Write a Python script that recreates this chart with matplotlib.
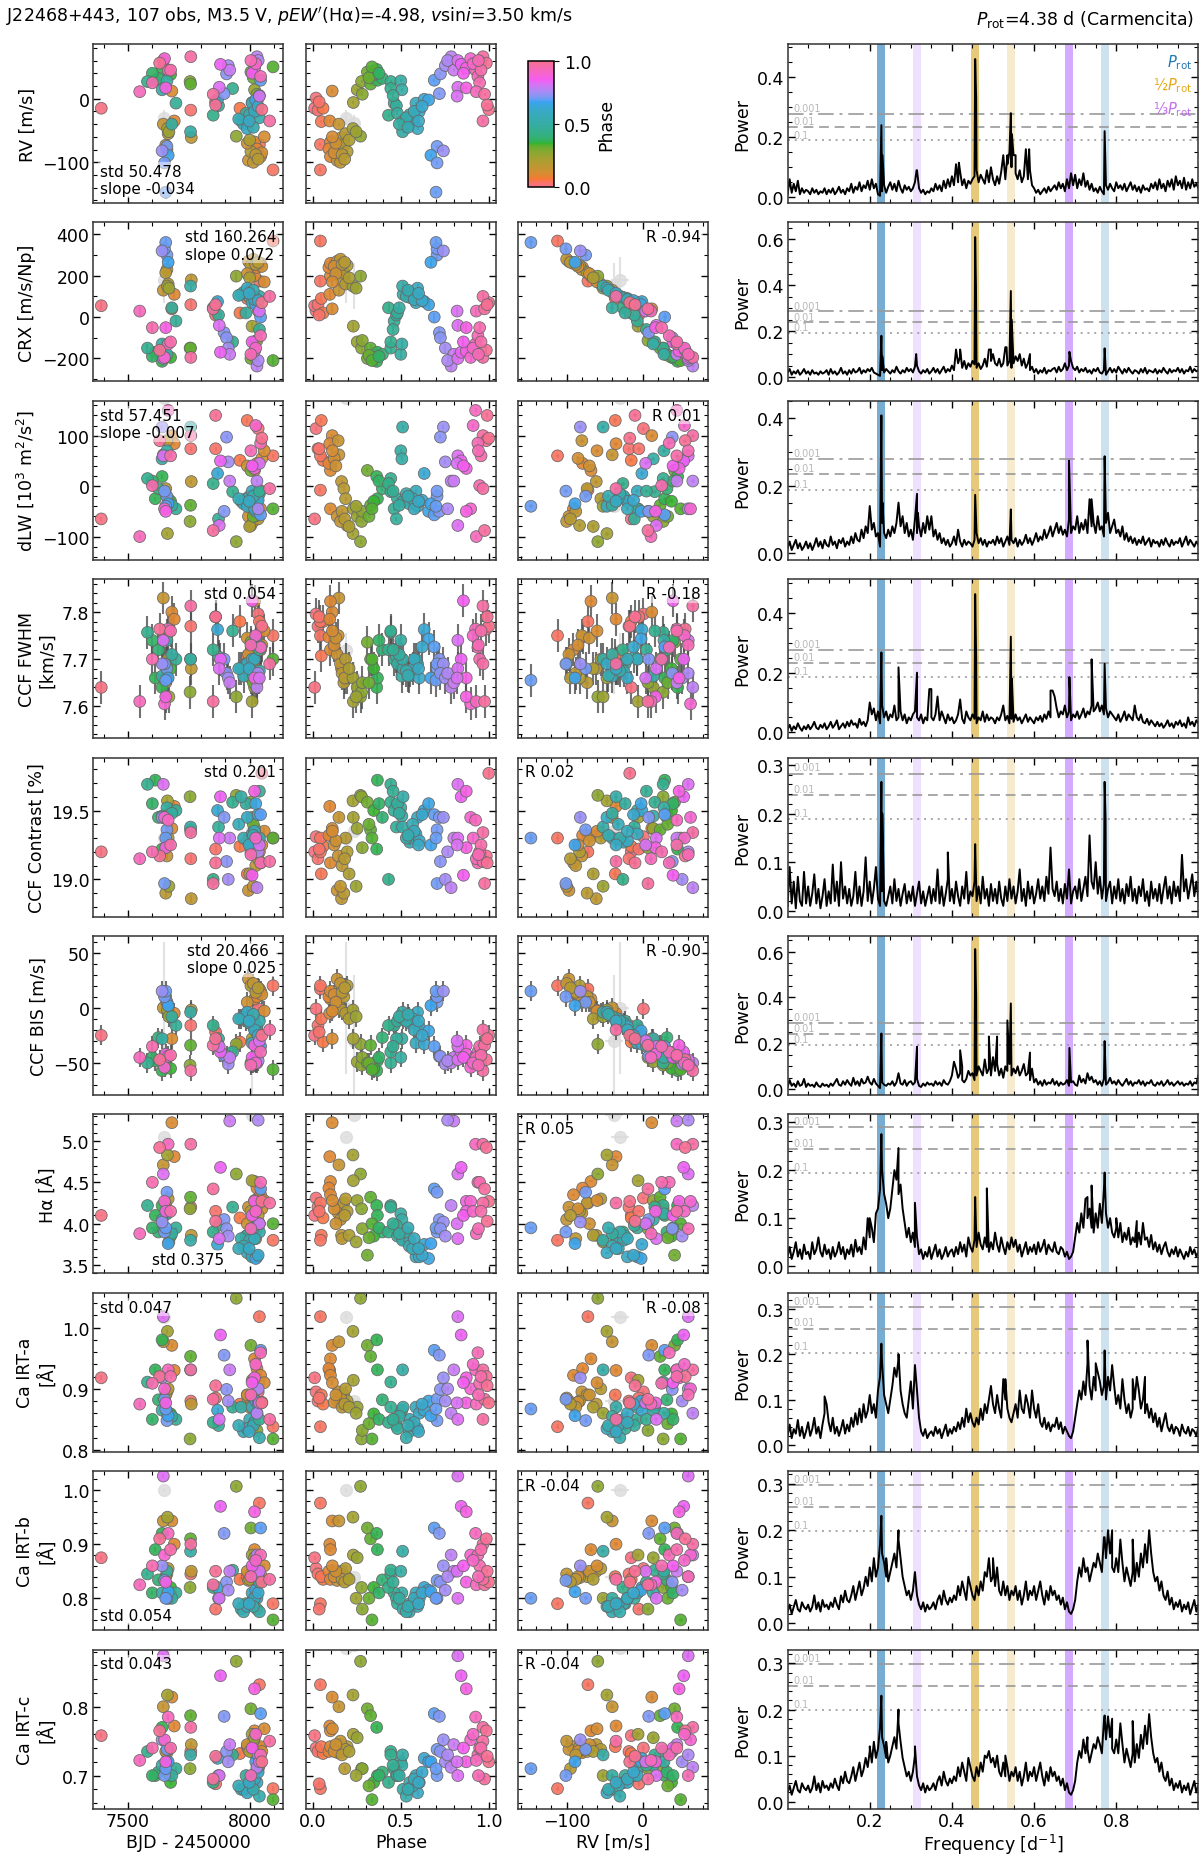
import numpy as np
import matplotlib
matplotlib.use('Agg')
import matplotlib.pyplot as plt
import seaborn as sns
from matplotlib.colors import ListedColormap, Normalize
from matplotlib.cm import ScalarMappable
from matplotlib.ticker import MultipleLocator
from matplotlib.offsetbox import AnchoredText

plt.rcParams['font.family'] = ['DejaVu Sans']
plt.rcParams['font.size'] = 12.5

# ---------------- data ----------------
prot = 4.38
n_obs = 107

bjd = [8035, 7390, 7758, 7960, 7990, 8040, 8096, 7860,
       7680, 7690, 7645, 8020, 8030, 8045, 7660, 7995, 7760, 7655, 8005, 8015, 7665, 8050, 8025, 7990, 8060, 8035,
       7662, 7945, 8010, 8020, 7755, 8030, 8000, 7668,
       8005, 7757, 7640, 7612, 7625, 7675, 8015, 8096, 7600,
       7580, 7930, 7660, 7640, 7697, 7872, 7850, 7985, 7965, 7757, 8000, 7975, 7990, 8010, 8030, 7868, 8025, 7955,
       8040, 8020, 8035, 7680, 8015, 8040, 7998,
       8045, 7895, 7660, 7665, 7650, 7655,
       7640, 7905, 7912, 8030, 7918, 8035,
       7645, 7880, 8020, 7650, 7875, 7655, 8040, 8010,
       7665, 7758, 7630, 8045, 7600, 7548, 7850, 8050, 8082, 8025, 7675, 7860, 8005]

phase = [0.017, 0.009, 0.028, 0.057, 0.047, 0.042, 0.042, 0.035,
         0.109, 0.095, 0.147, 0.099, 0.090, 0.099, 0.143, 0.137, 0.162, 0.175, 0.194, 0.156, 0.185, 0.120, 0.165,
         0.130, 0.110, 0.180,
         0.227, 0.270, 0.229, 0.251, 0.276, 0.280, 0.205, 0.245,
         0.309, 0.327, 0.362, 0.366, 0.394, 0.345, 0.318, 0.335, 0.375,
         0.442, 0.442, 0.499, 0.505, 0.461, 0.474, 0.429, 0.480, 0.512, 0.509, 0.550, 0.547, 0.594, 0.585, 0.604,
         0.632, 0.657, 0.566, 0.530, 0.575, 0.620, 0.490, 0.540, 0.455, 0.600,
         0.689, 0.718, 0.705, 0.670, 0.705, 0.699,
         0.741, 0.724, 0.752, 0.785, 0.800, 0.765,
         0.823, 0.842, 0.871, 0.896, 0.823, 0.871, 0.819, 0.855,
         0.924, 0.966, 0.985, 0.937, 0.947, 0.928, 0.975, 0.999, 0.966, 0.910, 0.955, 0.990, 0.940]

rv = [1, -15, -18, -15, -36, -72, -112, -5,
      12, -35, -40, -68, -79, -91, -80, -97, -61, -73, -83, -100, -55, -85, -88, -70, -60, -95,
      -47, -59, -6, 14, 27, 7, -65, -52,
      42, 23, 46, 29, 32, 38, 33, 50, 40,
      27, 16, 28, 14, -7, -11, -26, -23, -35, -52, -25, -40, -47, -7, -20, -1, -2, -32, -30, -20, -12, -40,
      -45, 5, -35,
      29, 8, -75, -89, -101, -147,
      -82, 39, 52, 66, 45, 60,
      60, 54, 48, 63, 18, 17, 4, 40,
      45, 66, 56, 35, 25, 11, 7, -17, -35, 55, 45, -10, 60]

crx = [30, 55, 60, 20, 90, 174, 368, 10,
       40, 110, 130, 200, 240, 260, 230, 270, 180, 215, 250, 280, 160, 245, 255, 210, 170, 265,
       150, 198, -44, -120, -150, -113, 190, 140,
       -200, -150, -214, -170, -180, -195, -185, -210, -190,
       -150, -120, -180, -130, -19, 10, 45, 20, 110, 150, 95, 120, 140, 70, 90, 75, 60, 105, 100, 85, 80, 45,
       130, -60, 115,
       0, -75, 300, 265, 330, 361,
       320, -100, -150, -237, -180, -210,
       -200, -170, -164, -195, -40, -51, 29, -120,
       -130, -195, -160, -90, -51, 29, 40, 70, 100, -150, -120, 60, -180]

dlw = [114, -65, 74, 51, 130, -8, 60, 74,
       100, 84, 62, 31, 45, -45, 90, -60, 9, -5, -78, -70, -25, 55, -50, 40, 70, -65,
       -94, -110, -45, -60, -70, -50, -80, -40,
       31, -38, 19, -25, -5, -30, -60, -45, 10,
       15, -11, 70, 54, -45, -65, 5, -25, -30, 117, -20, -35, -40, -10, -30, 25, -50, -25, -15, -45, -28, -38,
       -20, -10, -30,
       -57, -50, -20, -35, -10, -40,
       117, 97, 48, 10, 10, -45,
       60, 50, 35, -45, -78, -50, 45, 40,
       150, 100, 90, 85, 1, -100, -88, 95, -5, 120, 60, 140, 70]

fwhm = [7.796, 7.640, 7.770, 7.780, 7.707, 7.780, 7.750, 7.790,
        7.800, 7.785, 7.830, 7.823, 7.747, 7.720, 7.750, 7.710, 7.680, 7.650, 7.660, 7.690, 7.700, 7.730, 7.670,
        7.745, 7.760, 7.660,
        7.660, 7.620, 7.610, 7.640, 7.630, 7.650, 7.680, 7.620,
        7.736, 7.700, 7.640, 7.660, 7.720, 7.680, 7.650, 7.700, 7.740,
        7.757, 7.760, 7.740, 7.664, 7.700, 7.705, 7.720, 7.690, 7.680, 7.700, 7.675, 7.664, 7.690, 7.700, 7.660,
        7.763, 7.743, 7.680, 7.675, 7.700, 7.726, 7.710, 7.665, 7.720, 7.680,
        7.726, 7.700, 7.680, 7.660, 7.690, 7.655,
        7.690, 7.670, 7.660, 7.640, 7.650, 7.670,
        7.740, 7.700, 7.660, 7.605, 7.680, 7.620, 7.660, 7.824,
        7.764, 7.813, 7.764, 7.725, 7.700, 7.610, 7.610, 7.770, 7.690, 7.750, 7.760, 7.790, 7.730]

contrast = [19.31, 19.20, 19.15, 19.24, 19.04, 19.20, 19.30, 19.22,
            19.37, 19.53, 19.45, 19.32, 19.32, 19.12, 19.17, 18.92, 18.86, 18.90, 19.20, 18.95, 19.30, 19.25, 19.10,
            19.28, 19.35, 19.15,
            19.57, 19.61, 19.45, 19.37, 19.60, 19.23, 19.04, 18.95,
            19.56, 19.36, 19.22, 19.72, 19.45, 19.50, 19.40, 19.30, 19.55,
            19.69, 19.56, 19.52, 19.46, 19.50, 19.38, 19.00, 19.55, 19.60, 19.38, 19.27, 19.30, 19.45, 19.33, 19.28,
            19.50, 19.55, 19.40, 19.30, 19.35, 19.47, 19.48, 19.32, 19.64, 19.25,
            19.47, 19.45, 19.36, 19.25, 18.97, 19.30,
            19.45, 19.13, 19.00, 18.94, 19.30, 19.20,
            19.69, 19.60, 19.64, 19.45, 19.30, 19.23, 19.25, 19.03,
            19.43, 19.34, 19.17, 19.12, 19.20, 19.15, 18.97, 19.77, 19.13, 19.30, 19.25, 19.12, 19.18]

bis = [-1, -25, -16, -31, -10, 17, 20, -22,
       -28, -5, 0, 8, 10, 15, 5, 26, -2, 10, 20, 22, -5, 12, 14, 5, -3, 18,
       -2, -33, -28, -49, -52, -45, -10, -8,
       -50, -34, -57, -48, -27, -55, -50, -56, -45,
       -50, -40, -45, -28, -16, -28, -16, -12, -10, -4, -14, -8, -4, -32, -17, -33, -21, -10, -12, -20, -25, -8,
       -6, -35, -12,
       -35, -44, 5, 2, 10, 15,
       15, -44, -51, -50, -45, -48,
       -47, -40, -34, -54, -35, -42, -30, -45,
       -44, -57, -47, -40, -35, -45, -34, -25, -20, -50, -43, -28, -52]

halpha = [4.31, 4.10, 4.20, 4.07, 3.86, 4.25, 3.80, 4.15,
          5.22, 4.81, 4.71, 4.51, 4.43, 4.35, 4.13, 4.20, 3.86, 4.25, 4.15, 4.05, 4.30, 4.18, 3.82, 4.00, 4.28, 4.10,
          4.83, 4.60, 4.52, 4.28, 4.18, 3.94, 3.86, 3.78,
          3.62, 4.32, 4.22, 4.10, 3.90, 3.85, 3.83, 4.00, 3.95,
          4.22, 4.20, 4.12, 4.05, 3.95, 3.98, 3.90, 3.85, 3.82, 3.80, 3.80, 3.73, 3.65, 3.60, 3.60, 3.75, 3.58,
          3.70, 3.90, 3.82, 3.62, 3.88, 3.95, 4.00, 3.70,
          4.42, 4.05, 4.38, 3.76, 3.90, 3.95,
          4.02, 3.94, 3.85, 4.22, 5.24, 5.25,
          4.60, 4.68, 4.27, 4.27, 3.82, 4.15, 4.00, 4.10,
          4.96, 4.96, 4.92, 4.50, 4.50, 3.88, 4.42, 4.27, 4.25, 4.15, 4.15, 4.03, 3.94]

irta = [0.895, 0.918, 0.880, 0.875, 0.890, 1.018, 0.838, 0.885,
        0.971, 0.930, 0.977, 0.949, 0.933, 0.922, 0.895, 0.880, 0.875, 0.890, 0.880, 0.885, 0.900, 0.878, 0.870,
        0.890, 0.910, 0.875,
        0.994, 1.048, 0.914, 0.870, 0.818, 0.832, 0.870, 0.860,
        0.971, 0.953, 0.980, 0.931, 0.882, 0.859, 0.843, 0.818, 0.850,
        0.911, 0.870, 0.860, 0.865, 0.850, 0.840, 0.845, 0.835, 0.870, 0.931, 0.850, 0.830, 0.835, 0.870, 0.860,
        0.865, 0.880, 0.840, 0.820, 0.845, 0.875, 0.855, 0.840, 0.850, 0.830,
        0.963, 0.955, 0.848, 0.856, 0.883, 0.867,
        0.918, 0.899, 0.880, 0.860, 0.931, 0.900,
        1.018, 0.988, 0.918, 0.900, 0.850, 0.877, 0.877, 0.910,
        0.931, 0.931, 0.920, 0.959, 0.909, 0.875, 0.883, 0.877, 0.850, 0.940, 0.920, 0.905, 0.890]

irtb = [0.855, 0.875, 0.845, 0.835, 0.840, 0.976, 0.790, 0.780,
        0.943, 0.900, 0.943, 0.890, 0.850, 0.835, 0.845, 0.833, 0.850, 0.840, 0.838, 0.845, 0.855, 0.840, 0.835,
        0.850, 0.860, 0.830,
        0.950, 1.007, 0.880, 0.875, 0.820, 0.780, 0.835, 0.800,
        0.930, 0.910, 0.920, 0.890, 0.834, 0.820, 0.800, 0.760, 0.810,
        0.845, 0.852, 0.850, 0.810, 0.810, 0.800, 0.820, 0.790, 0.780, 0.887, 0.790, 0.775, 0.785, 0.810, 0.800,
        0.820, 0.815, 0.790, 0.775, 0.800, 0.810, 0.800, 0.785, 0.830, 0.790,
        0.930, 0.920, 0.800, 0.812, 0.833, 0.800,
        0.860, 0.830, 0.815, 0.880, 0.850, 0.840,
        1.026, 0.970, 0.960, 0.880, 0.800, 0.830, 0.850, 0.860,
        0.920, 0.900, 0.910, 0.880, 0.860, 0.825, 0.825, 0.830, 0.835, 0.870, 0.890, 0.850, 0.840]

irtc = [0.740, 0.758, 0.735, 0.732, 0.742, 0.832, 0.681, 0.688,
        0.814, 0.772, 0.800, 0.765, 0.735, 0.742, 0.733, 0.738, 0.745, 0.735, 0.742, 0.750, 0.738, 0.735, 0.730,
        0.745, 0.768, 0.710,
        0.817, 0.866, 0.760, 0.755, 0.710, 0.710, 0.735, 0.700,
        0.797, 0.787, 0.770, 0.700, 0.705, 0.690, 0.685, 0.665, 0.700,
        0.735, 0.730, 0.720, 0.715, 0.710, 0.700, 0.690, 0.700, 0.680, 0.730, 0.690, 0.680, 0.675, 0.700, 0.690,
        0.725, 0.720, 0.685, 0.670, 0.695, 0.705, 0.700, 0.680, 0.715, 0.690,
        0.790, 0.786, 0.738, 0.720, 0.700, 0.710,
        0.752, 0.735, 0.720, 0.712, 0.745, 0.730,
        0.874, 0.845, 0.826, 0.752, 0.700, 0.720, 0.720, 0.740,
        0.785, 0.770, 0.765, 0.730, 0.740, 0.722, 0.695, 0.720, 0.750, 0.760, 0.740, 0.728, 0.700]

# flagged observations, drawn in grey
gray_bjd = [7648, 8008]
gray_phase = [0.185, 0.235]
gray_rv = [-30, -38]
gray_crx = [180, 150]
gray_dlw = [175, -40]
gray_fwhm = [7.72, 7.66]
gray_contrast = [19.30, 19.35]
gray_bis = [0, -30]
gray_halpha = [5.05, 5.31]
gray_irta = [1.018, 0.88]
gray_irtb = [1.00, 0.84]
gray_irtc = [0.885, 0.89]

# typical uncertainties
rv_err, gray_rv_err = 2.5, 12
crx_err, gray_crx_err = 22, 110
dlw_err = 4
fwhm_err = 0.035
contrast_err = 0.03
bis_err, gray_bis_err = 9, 60
halpha_err = 0.01
irt_err = 0.004

# periodogram baseline on a 0.005 d^-1 grid (power x 1000) + narrow peaks
pw_rv = [10, 60, 15, 45, 20, 55, 10, 30, 15, 25, 20, 10, 30, 15, 25, 10, 20, 15, 30, 10,
         25, 15, 30, 10, 20, 35, 15, 25, 10, 30, 20, 45, 15, 35, 25, 50, 20, 40, 30, 55,
         25, 60, 30, 45, 10, 5, 20, 40, 15, 35, 50, 25, 45, 20, 55, 30, 15, 40, 25, 35,
         20, 30, 50, 90, 30, 15, 25, 10, 20, 15, 30, 20, 45, 25, 40, 20, 55, 30, 60, 35,
         70, 40, 110, 50, 85, 40, 60, 30, 55, 45, 60, 70, 90, 50, 75, 60, 45, 90, 50, 100,
         60, 40, 70, 45, 85, 140, 60, 110, 150, 100, 140, 80, 60, 90, 50, 70, 160, 60, 90, 40,
         30, 15, 25, 10, 20, 30, 15, 35, 20, 30, 40, 25, 50, 30, 45, 20, 60, 30, 80, 40,
         75, 30, 60, 40, 80, 35, 55, 25, 45, 20, 30, 15, 35, 20, 10, 40, 25, 45, 30, 20,
         50, 30, 40, 25, 45, 20, 35, 50, 25, 40, 20, 35, 15, 40, 25, 30, 20, 45, 30, 50,
         25, 60, 30, 45, 20, 55, 35, 60, 25, 70, 40, 55, 30, 65, 25, 50, 30, 60, 35, 45, 30]
pk_rv_f = [0.2283, 0.2310, 0.4566, 0.4590, 0.5434, 0.5460, 0.5350, 0.5550, 0.5880, 0.7717, 0.3140, 0.4170]
pk_rv_p = [240, 140, 460, 330, 280, 210, 140, 140, 160, 220, 90, 115]

pw_crx = [20, 35, 10, 25, 15, 30, 10, 20, 35, 15, 25, 10, 30, 15, 20, 10, 25, 15, 20, 30,
          10, 35, 15, 25, 10, 20, 40, 15, 25, 10, 30, 15, 35, 20, 25, 40, 15, 30, 20, 35,
          25, 40, 20, 15, 10, 5, 30, 20, 35, 25, 15, 30, 20, 45, 25, 15, 30, 20, 40, 25,
          35, 20, 45, 50, 25, 15, 30, 20, 35, 15, 25, 40, 20, 35, 15, 30, 45, 20, 35, 25,
          50, 30, 120, 60, 90, 40, 70, 35, 60, 45, 70, 55, 40, 60, 35, 50, 80, 45, 120, 70,
          100, 60, 50, 80, 45, 60, 130, 50, 70, 40, 60, 90, 70, 100, 50, 80, 40, 60, 30, 45,
          20, 35, 15, 30, 20, 40, 15, 30, 25, 35, 40, 20, 45, 25, 35, 60, 30, 50, 70, 40,
          30, 45, 20, 35, 25, 40, 20, 30, 15, 35, 25, 40, 20, 15, 30, 10, 25, 40, 20, 35,
          20, 45, 30, 15, 35, 20, 40, 25, 15, 30, 25, 15, 35, 20, 40, 15, 30, 25, 20, 35,
          15, 30, 20, 40, 25, 15, 35, 20, 30, 25, 40, 20, 35, 15, 30, 25, 45, 20, 35, 25, 30]
pk_crx_f = [0.2283, 0.2305, 0.4566, 0.4585, 0.5434, 0.5455, 0.5330, 0.7717, 0.3130, 0.6860, 0.4200, 0.4950,
            0.5900]
pk_crx_p = [180, 90, 610, 400, 375, 250, 130, 125, 100, 110, 120, 120, 100]

pw_dlw = [15, 35, 10, 25, 40, 15, 30, 10, 20, 35, 15, 30, 10, 25, 45, 20, 35, 15, 40, 25,
          20, 50, 25, 35, 15, 40, 30, 45, 20, 35, 25, 50, 30, 60, 40, 35, 70, 45, 80, 60,
          140, 70, 90, 50, 60, 20, 90, 60, 45, 70, 50, 80, 60, 90, 150, 80, 110, 60, 90, 50,
          70, 40, 100, 60, 80, 50, 90, 60, 110, 70, 110, 50, 70, 40, 60, 30, 45, 25, 40, 20,
          30, 50, 25, 70, 35, 20, 40, 25, 35, 30, 20, 40, 60, 30, 45, 25, 40, 20, 35, 30,
          40, 25, 50, 30, 45, 20, 35, 50, 25, 40, 30, 45, 20, 40, 25, 35, 55, 30, 45, 25,
          40, 60, 35, 50, 40, 70, 45, 60, 80, 50, 70, 90, 60, 80, 55, 70, 50, 100, 60, 80,
          70, 110, 60, 90, 70, 100, 60, 160, 80, 90, 60, 110, 70, 80, 50, 90, 120, 60, 80, 100,
          60, 70, 50, 80, 40, 60, 35, 50, 30, 45, 25, 40, 30, 50, 25, 35, 45, 20, 40, 30,
          35, 20, 40, 25, 45, 30, 20, 40, 25, 35, 30, 45, 20, 35, 50, 25, 40, 30, 20, 35, 25]
pk_dlw_f = [0.2283, 0.2310, 0.3150, 0.3170, 0.6850, 0.7717, 0.7740, 0.4566, 0.5434, 0.2700, 0.2000, 0.7400]
pk_dlw_p = [408, 150, 176, 120, 274, 287, 150, 173, 130, 150, 140, 160]

pw_fwhm = [10, 25, 5, 20, 10, 30, 15, 5, 20, 10, 25, 10, 20, 35, 15, 10, 25, 15, 30, 10,
           20, 35, 15, 25, 40, 10, 20, 30, 15, 35, 20, 40, 25, 30, 15, 45, 25, 35, 20, 40,
           100, 60, 80, 40, 70, 30, 90, 50, 70, 40, 60, 50, 90, 40, 50, 70, 40, 60, 30, 50,
           40, 60, 70, 50, 40, 60, 30, 50, 40, 145, 50, 40, 60, 120, 40, 70, 50, 30, 60, 40,
           50, 30, 40, 60, 110, 45, 30, 70, 50, 40, 60, 45, 30, 50, 40, 70, 35, 60, 40, 50,
           45, 30, 50, 40, 60, 90, 40, 55, 30, 45, 35, 60, 40, 50, 30, 45, 60, 35, 50, 40,
           30, 50, 40, 55, 35, 60, 45, 70, 50, 140, 120, 80, 50, 70, 60, 90, 50, 70, 40, 60,
           50, 70, 45, 60, 80, 50, 70, 60, 90, 70, 80, 100, 70, 90, 60, 80, 50, 70, 60, 50,
           40, 60, 35, 50, 70, 40, 60, 50, 40, 90, 50, 40, 60, 35, 30, 45, 25, 40, 30, 20,
           35, 20, 30, 15, 25, 40, 20, 30, 15, 35, 25, 40, 20, 30, 15, 50, 25, 35, 20, 40, 30]
pk_fwhm_f = [0.4566, 0.4590, 0.5434, 0.5460, 0.2283, 0.2700, 0.3150, 0.7400, 0.7717, 0.6860, 0.3500, 0.4200,
             0.6400]
pk_fwhm_p = [464, 250, 321, 180, 268, 218, 200, 245, 230, 185, 145, 110, 140]

pw_contrast = [10, 90, 15, 60, 5, 70, 20, 10, 80, 15, 50, 10, 35, 75, 15, 45, 5, 30, 65, 10,
               40, 15, 95, 20, 60, 10, 100, 25, 50, 15, 45, 10, 30, 80, 15, 50, 10, 40, 110, 20,
               60, 15, 45, 90, 25, 10, 40, 20, 10, 30, 50, 15, 65, 20, 45, 10, 35, 55, 15, 40,
               20, 50, 10, 35, 60, 15, 40, 10, 30, 50, 15, 45, 20, 85, 15, 50, 10, 35, 65, 20,
               45, 15, 60, 30, 10, 50, 25, 80, 15, 40, 30, 60, 20, 50, 15, 70, 25, 45, 10, 55,
               20, 45, 15, 60, 25, 10, 50, 20, 65, 25, 50, 15, 40, 85, 20, 45, 10, 60, 25, 50,
               15, 35, 65, 25, 50, 20, 70, 35, 130, 45, 30, 60, 20, 45, 15, 55, 25, 85, 15, 40,
               50, 25, 65, 20, 45, 70, 30, 155, 60, 45, 100, 35, 70, 25, 55, 20, 45, 60, 15, 50,
               25, 65, 20, 45, 15, 55, 30, 70, 20, 45, 15, 50, 30, 65, 20, 40, 10, 60, 25, 45,
               20, 55, 15, 45, 70, 25, 50, 15, 60, 30, 50, 20, 115, 40, 65, 25, 50, 75, 30, 60, 25]
pk_contrast_f = [0.2283, 0.2305, 0.7717, 0.7740, 0.4566, 0.3900, 0.9600]
pk_contrast_p = [265, 200, 265, 190, 137, 120, 115]

pw_bis = [10, 40, 15, 25, 10, 35, 15, 20, 45, 10, 25, 15, 20, 10, 30, 15, 10, 25, 15, 20,
          10, 25, 15, 30, 45, 20, 15, 35, 20, 40, 25, 15, 50, 20, 35, 15, 45, 25, 30, 55,
          30, 20, 45, 25, 15, 5, 30, 20, 15, 25, 20, 35, 15, 30, 70, 25, 20, 40, 15, 30,
          35, 20, 30, 45, 15, 10, 25, 15, 30, 20, 25, 15, 35, 20, 30, 15, 40, 25, 20, 35,
          60, 120, 90, 50, 70, 40, 30, 45, 80, 60, 70, 40, 60, 100, 80, 60, 130, 70, 90, 60,
          140, 80, 110, 60, 90, 50, 100, 80, 110, 60, 90, 70, 100, 60, 80, 110, 60, 70, 40, 90,
          30, 45, 20, 35, 15, 40, 20, 30, 25, 45, 20, 35, 15, 30, 20, 25, 40, 15, 30, 35,
          20, 15, 60, 30, 45, 25, 70, 40, 55, 30, 40, 20, 35, 15, 45, 20, 30, 50, 25, 35,
          20, 40, 25, 15, 30, 45, 20, 35, 15, 30, 25, 40, 20, 35, 15, 30, 25, 40, 20, 15,
          30, 20, 35, 15, 25, 40, 20, 30, 15, 25, 35, 20, 30, 15, 25, 20, 35, 15, 30, 25, 60]
pk_bis_f = [0.4566, 0.4590, 0.5434, 0.5350, 0.2283, 0.3150, 0.6860, 0.7717, 0.4900, 0.5100, 0.4200, 0.5900,
            0.4250]
pk_bis_p = [611, 403, 374, 300, 243, 185, 180, 210, 230, 230, 170, 160, 100]

pw_halpha = [20, 40, 15, 30, 50, 20, 35, 15, 45, 25, 30, 15, 50, 25, 35, 60, 30, 20, 45, 25,
             35, 15, 40, 20, 30, 50, 25, 40, 15, 35, 25, 45, 20, 55, 30, 40, 25, 60, 35, 100,
             60, 80, 50, 110, 120, 160, 200, 150, 130, 100, 120, 160, 200, 180, 150, 170, 120, 90, 60, 80,
             50, 70, 40, 60, 25, 35, 15, 30, 20, 40, 15, 30, 45, 20, 35, 15, 25, 40, 20, 30,
             35, 20, 40, 25, 50, 30, 45, 20, 60, 40, 30, 55, 40, 70, 45, 35, 60, 40, 30, 50,
             35, 70, 45, 30, 60, 40, 25, 50, 35, 60, 40, 55, 30, 45, 20, 35, 50, 25, 40, 30,
             45, 25, 50, 30, 40, 55, 25, 45, 35, 30, 50, 30, 25, 40, 35, 20, 30, 15, 20, 30,
             60, 90, 70, 110, 80, 140, 100, 120, 80, 70, 110, 80, 130, 90, 160, 110, 80, 100, 70, 60,
             80, 60, 90, 50, 70, 55, 80, 45, 60, 50, 40, 70, 45, 90, 55, 60, 40, 65, 35, 50,
             30, 45, 25, 40, 50, 30, 20, 35, 25, 40, 20, 35, 25, 15, 30, 20, 40, 25, 35, 20, 30]
pk_halpha_f = [0.2283, 0.2700, 0.2650, 0.3100, 0.4566, 0.4850, 0.7717, 0.7400, 0.7300, 0.2000, 0.8000, 0.8500]
pk_halpha_p = [275, 246, 180, 132, 144, 162, 195, 168, 144, 100, 100, 94]

pw_irta = [20, 45, 15, 35, 25, 55, 20, 40, 15, 30, 50, 20, 35, 60, 25, 40, 15, 45, 70, 90,
           50, 30, 60, 25, 40, 20, 35, 55, 25, 45, 30, 60, 40, 70, 45, 80, 50, 90, 60, 75,
           110, 70, 90, 60, 120, 150, 180, 110, 90, 70, 100, 130, 170, 150, 190, 120, 90, 70, 60, 100,
           140, 80, 176, 120, 60, 30, 20, 35, 15, 25, 30, 20, 40, 25, 35, 15, 30, 45, 20, 35,
           25, 40, 30, 50, 35, 60, 40, 80, 50, 70, 50, 40, 60, 45, 80, 55, 90, 70, 100, 130,
           90, 70, 110, 80, 60, 145, 100, 80, 60, 50, 70, 90, 60, 120, 80, 70, 110, 90, 60, 120,
           80, 60, 90, 50, 40, 60, 35, 50, 30, 45, 40, 60, 35, 50, 25, 40, 30, 20, 15, 30,
           60, 90, 120, 100, 140, 110, 180, 130, 100, 150, 120, 160, 140, 110, 130, 100, 150, 120, 176, 130,
           90, 110, 80, 145, 100, 70, 90, 60, 80, 100, 150, 120, 80, 100, 70, 90, 60, 80, 50, 70,
           40, 60, 30, 50, 70, 40, 30, 45, 25, 40, 35, 20, 45, 30, 25, 40, 20, 35, 30, 20, 40]
pk_irta_f = [0.2283, 0.2700, 0.3100, 0.7300, 0.7717, 0.7500, 0.8400, 0.8700, 0.5300, 0.0900]
pk_irta_p = [223, 200, 176, 230, 208, 180, 145, 150, 145, 107]

pw_irtb = [25, 40, 20, 35, 50, 30, 25, 45, 35, 30, 40, 25, 35, 60, 30, 45, 25, 50, 35, 40,
           30, 45, 35, 55, 40, 30, 60, 45, 70, 50, 45, 60, 80, 50, 70, 90, 60, 75, 100, 80,
           120, 90, 140, 100, 120, 170, 150, 130, 100, 90, 110, 130, 150, 120, 180, 140, 100, 80, 60, 70,
           50, 70, 110, 60, 40, 30, 45, 25, 40, 30, 35, 45, 30, 50, 60, 40, 70, 50, 40, 55,
           45, 60, 50, 80, 60, 90, 70, 50, 100, 80, 60, 50, 80, 60, 90, 70, 110, 100, 140, 90,
           100, 80, 120, 70, 60, 90, 60, 80, 50, 70, 60, 80, 50, 70, 40, 60, 90, 50, 70, 60,
           80, 50, 70, 90, 60, 40, 70, 50, 80, 60, 70, 50, 60, 40, 55, 30, 45, 25, 20, 30,
           50, 90, 120, 100, 140, 110, 120, 90, 110, 130, 120, 150, 130, 110, 185, 140, 200, 150, 120, 110,
           140, 110, 180, 130, 90, 120, 100, 80, 110, 90, 130, 100, 150, 120, 170, 130, 200, 150, 110, 90,
           100, 70, 90, 60, 50, 70, 40, 55, 30, 45, 35, 50, 25, 40, 30, 45, 20, 35, 50, 25, 40]
pk_irtb_f = [0.2283, 0.2700, 0.2000, 0.2400, 0.3100, 0.5000, 0.7717, 0.7900, 0.8400, 0.8800]
pk_irtb_p = [231, 200, 120, 140, 110, 140, 185, 200, 180, 200]

pw_irtc = [20, 35, 15, 30, 45, 25, 20, 40, 30, 25, 35, 20, 30, 55, 25, 40, 20, 45, 30, 35,
           25, 40, 30, 50, 35, 25, 55, 40, 65, 45, 40, 55, 75, 45, 65, 85, 55, 70, 95, 75,
           110, 85, 130, 95, 115, 160, 140, 120, 95, 85, 100, 120, 140, 115, 170, 130, 95, 75, 55, 65,
           45, 65, 100, 55, 35, 25, 40, 20, 35, 25, 30, 40, 25, 45, 55, 35, 65, 45, 35, 50,
           40, 55, 45, 75, 55, 85, 65, 45, 95, 75, 55, 45, 75, 55, 85, 65, 100, 95, 110, 85,
           95, 75, 100, 65, 55, 85, 55, 75, 45, 65, 55, 75, 45, 65, 35, 55, 85, 45, 65, 55,
           75, 45, 65, 85, 55, 35, 65, 45, 75, 55, 65, 45, 55, 35, 50, 25, 40, 20, 15, 25,
           45, 85, 110, 95, 135, 105, 115, 85, 105, 125, 115, 140, 125, 105, 175, 135, 185, 140, 115, 105,
           135, 105, 170, 125, 85, 115, 95, 75, 105, 85, 125, 95, 145, 115, 165, 125, 190, 140, 105, 85,
           95, 65, 85, 55, 45, 65, 35, 50, 25, 40, 30, 45, 20, 35, 25, 40, 15, 30, 45, 20, 35]
pk_irtc_f = [0.2283, 0.2700, 0.2000, 0.2400, 0.3100, 0.4900, 0.5300, 0.7717, 0.7900, 0.8400, 0.8800, 0.7300]
pk_irtc_p = [230, 200, 120, 130, 120, 110, 100, 187, 180, 175, 190, 140]

# false-alarm levels (0.001, 0.01, 0.1) per row
fap_levels = [[0.278, 0.235, 0.189], [0.286, 0.239, 0.193], [0.280, 0.234, 0.188], [0.277, 0.234, 0.185],
              [0.282, 0.238, 0.188], [0.288, 0.242, 0.195], [0.289, 0.243, 0.193], [0.303, 0.256, 0.203],
              [0.297, 0.250, 0.198], [0.298, 0.251, 0.199]]

ylabels = ['RV [m/s]', 'CRX [m/s/Np]', 'dLW [10$^3$ m$^2$/s$^2$]', 'CCF FWHM\n[km/s]', 'CCF Contrast [%]',
           'CCF BIS [m/s]', 'H\u03b1 [\u00c5]', 'Ca IRT-a\n[\u00c5]', 'Ca IRT-b\n[\u00c5]', 'Ca IRT-c\n[\u00c5]']
std_txt = ['std 50.478\nslope -0.034', 'std 160.264\nslope 0.072', 'std 57.451\nslope -0.007', 'std 0.054',
           'std 0.201', 'std 20.466\nslope 0.025', 'std 0.375', 'std 0.047', 'std 0.054', 'std 0.043']
std_loc = ['lower left', 'upper right', 'upper left', 'upper right', 'upper right', 'upper right',
           'lower center', 'upper left', 'lower left', 'upper left']
r_txt = [None, 'R -0.94', 'R 0.01', 'R -0.18', 'R 0.02', 'R -0.90', 'R 0.05', 'R -0.08', 'R -0.04', 'R -0.04']
r_loc = [None, 'upper right', 'upper right', 'upper right', 'upper left', 'upper right', 'upper left',
         'upper right', 'upper left', 'upper left']

# ---------------- figure ----------------
W, H = 1200., 1858.
fig = plt.figure(figsize=(12, 18.58), dpi=100)
cmap = ListedColormap(sns.color_palette('husl', 256))

col_left = [93, 306, 518, 788]
col_w = [190, 190, 190, 410]
row_top0, row_step, row_h = 45, 178.4, 159


def make_ax(row, col):
    top = row_top0 + row * row_step
    return fig.add_axes([col_left[col] / W, 1 - (top + row_h) / H, col_w[col] / W, row_h / H])


def style(ax, xmaj, xmin, ymaj, ymin):
    ax.xaxis.set_major_locator(MultipleLocator(xmaj))
    ax.xaxis.set_minor_locator(MultipleLocator(xmin))
    ax.yaxis.set_major_locator(MultipleLocator(ymaj))
    ax.yaxis.set_minor_locator(MultipleLocator(ymin))
    ax.tick_params(which='both', direction='in', top=True, right=True)
    ax.tick_params(which='major', length=5, width=1, pad=2.5)
    ax.tick_params(which='minor', length=3, width=0.8)
    for s in ax.spines.values():
        s.set_linewidth(1.1)
        s.set_color('0.2')


def add_note(ax, txt, loc):
    at = AnchoredText(txt, loc=loc, prop=dict(size=11), frameon=True, pad=0.1, borderpad=0.35)
    at.patch.set_facecolor('white')
    at.patch.set_alpha(0.5)
    at.patch.set_edgecolor('none')
    ax.add_artist(at)


def draw_points(ax, x, y, gx, gy, xerr=None, yerr=None, gxerr=None, gyerr=None):
    ax.errorbar(gx, gy, xerr=gxerr, yerr=gyerr, fmt='o', ms=8.5, color='0.86', mec='0.86',
                elinewidth=1.5, alpha=0.8, zorder=0.5)
    if xerr is not None or yerr is not None:
        ax.errorbar(x, y, xerr=xerr, yerr=yerr, fmt='none', ecolor='0.3', elinewidth=1.5, alpha=0.8, zorder=1)
    ax.scatter(x, y, c=phase, cmap=cmap, vmin=0, vmax=1, s=72, edgecolors='0.4', linewidths=0.6,
               alpha=0.92, zorder=2)


series = [(rv, gray_rv, None, gray_rv_err, (-164, 86), 100, 20),
          (crx, gray_crx, crx_err, gray_crx_err, (-311, 458), 200, 100),
          (dlw, gray_dlw, dlw_err, dlw_err, (-146, 169), 100, 20),
          (fwhm, gray_fwhm, fwhm_err, fwhm_err, (7.532, 7.87), 0.1, 0.02),
          (contrast, gray_contrast, contrast_err, contrast_err, (18.73, 19.884), 0.5, 0.1),
          (bis, gray_bis, bis_err, gray_bis_err, (-79, 65), 50, 10),
          (halpha, gray_halpha, halpha_err, halpha_err, (3.40, 5.32), 0.5, 0.1),
          (irta, gray_irta, irt_err, irt_err, (0.797, 1.057), 0.1, 0.02),
          (irtb, gray_irtb, irt_err, irt_err, (0.741, 1.035), 0.1, 0.02),
          (irtc, gray_irtc, irt_err, irt_err, (0.652, 0.883), 0.1, 0.02)]

periodograms = [(pw_rv, pk_rv_f, pk_rv_p, (-0.019, 0.51), 0.2, 0.05),
                (pw_crx, pk_crx_f, pk_crx_p, (-0.019, 0.674), 0.2, 0.05),
                (pw_dlw, pk_dlw_f, pk_dlw_p, (-0.019, 0.451), 0.2, 0.05),
                (pw_fwhm, pk_fwhm_f, pk_fwhm_p, (-0.02, 0.514), 0.2, 0.05),
                (pw_contrast, pk_contrast_f, pk_contrast_p, (-0.012, 0.315), 0.1, 0.02),
                (pw_bis, pk_bis_f, pk_bis_p, (-0.025, 0.668), 0.2, 0.05),
                (pw_halpha, pk_halpha_f, pk_halpha_p, (-0.015, 0.316), 0.1, 0.02),
                (pw_irta, pk_irta_f, pk_irta_p, (-0.015, 0.335), 0.1, 0.02),
                (pw_irtb, pk_irtb_f, pk_irtb_p, (-0.015, 0.327), 0.1, 0.02),
                (pw_irtc, pk_irtc_f, pk_irtc_p, (-0.015, 0.33), 0.1, 0.02)]

c_blue, c_gold, c_purp = '#1f77b4', '#daa520', '#b366ff'
bands = [(1 / prot, c_blue, 0.6), (2 / prot, c_gold, 0.6), (3 / prot, c_purp, 0.55),
         (1 - 1 / prot, c_blue, 0.22), (1 - 2 / prot, c_gold, 0.22), (1 - 3 / prot, c_purp, 0.2)]
fap_ls = [(0, (8, 3, 1.5, 3)), (0, (5, 3)), (0, (1, 2.5))]
fap_lab = ['0.001', '0.01', '0.1']
last = len(series) - 1

for i, (y, gy, yerr, gyerr, ylim, ymaj, ymin) in enumerate(series):
    # time series
    ax = make_ax(i, 0)
    draw_points(ax, bjd, y, gray_bjd, gy, yerr=yerr, gyerr=gyerr)
    ax.set_xlim(7356, 8137)
    ax.set_ylim(*ylim)
    style(ax, 500, 100, ymaj, ymin)
    ax.set_ylabel(ylabels[i])
    add_note(ax, std_txt[i], std_loc[i])
    if i == last:
        ax.set_xlabel('BJD - 2450000', labelpad=2)
    else:
        ax.tick_params(labelbottom=False)

    # phase-folded
    ax = make_ax(i, 1)
    draw_points(ax, phase, y, gray_phase, gy, yerr=yerr if i else rv_err, gyerr=gyerr)
    ax.set_xlim(-0.04, 1.04)
    ax.set_ylim(*ylim)
    style(ax, 0.5, 0.1, ymaj, ymin)
    ax.tick_params(labelleft=False)
    if i == last:
        ax.set_xlabel('Phase', labelpad=2)
    else:
        ax.tick_params(labelbottom=False)

    # against RV
    if i > 0:
        ax = make_ax(i, 2)
        draw_points(ax, rv, y, gray_rv, gy, xerr=rv_err, yerr=yerr, gxerr=gray_rv_err, gyerr=gyerr)
        ax.set_xlim(-164, 86)
        ax.set_ylim(*ylim)
        style(ax, 100, 20, ymaj, ymin)
        ax.tick_params(labelleft=False)
        add_note(ax, r_txt[i], r_loc[i])
        if i == last:
            ax.set_xlabel('RV [m/s]', labelpad=2)
        else:
            ax.tick_params(labelbottom=False)

    # periodogram
    base, pk_f, pk_p, pylim, pmaj, pmin = periodograms[i]
    f = np.concatenate([np.linspace(0, 1, len(base)), pk_f])
    p = np.concatenate([np.array(base), np.array(pk_p)]) / 1000.
    order = np.argsort(f)
    ax = make_ax(i, 3)
    for fr, col, a in bands:
        ax.axvspan(fr - 0.0098, fr + 0.0098, color=col, alpha=a, lw=0, zorder=0)
    for lev, ls, lab in zip(fap_levels[i], fap_ls, fap_lab):
        ax.axhline(lev, color='0.6', ls=ls, lw=1.4, alpha=0.85, zorder=1)
        ax.text(0.012, lev + 0.003, lab, fontsize=7, color='0.72', ha='left', va='bottom',
                transform=ax.get_yaxis_transform(), zorder=1)
    ax.plot(f[order], p[order], color='k', lw=1.4, zorder=2)
    ax.set_xlim(0.001, 0.999)
    ax.set_ylim(*pylim)
    style(ax, 0.2, 0.05, pmaj, pmin)
    ax.set_ylabel('Power')
    if i == last:
        ax.set_xlabel('Frequency [d$^{-1}$]', labelpad=1)
    else:
        ax.tick_params(labelbottom=False)
    if i == 0:
        ax.text(0.985, 0.95, '$P_\\mathrm{rot}$', color=c_blue, fontsize=10.5, ha='right', va='top',
                transform=ax.transAxes)
        ax.text(0.985, 0.80, '\u00bd$P_\\mathrm{rot}$', color='#e6a817', fontsize=10.5, ha='right', va='top',
                transform=ax.transAxes)
        ax.text(0.985, 0.65, '\u2153$P_\\mathrm{rot}$', color='#c070f0', fontsize=10.5, ha='right', va='top',
                transform=ax.transAxes)

# colour bar for phase
cax = fig.add_axes([528 / W, 1 - 188 / H, 26 / W, 126 / H])
cb = fig.colorbar(ScalarMappable(norm=Normalize(0, 1), cmap=cmap), cax=cax)
cb.set_ticks([0.0, 0.5, 1.0])
cb.set_ticklabels(['0.0', '0.5', '1.0'])
cb.set_label('Phase')
cb.outline.set_linewidth(1.1)

fig.text(6 / W, 1 - 17 / H, "J22468+443, %d obs, M3.5 V, $pEW'$(H\u03b1)=-4.98, $v$sin$i$=3.50 km/s" % n_obs,
         ha='left', va='center', fontsize=12.5)
fig.text(1 - 6 / W, 1 - 19 / H, '$P_\\mathrm{rot}$=%.2f d (Carmencita)' % prot, ha='right', va='center',
         fontsize=12.5)

fig.savefig('out.png', dpi=100)
